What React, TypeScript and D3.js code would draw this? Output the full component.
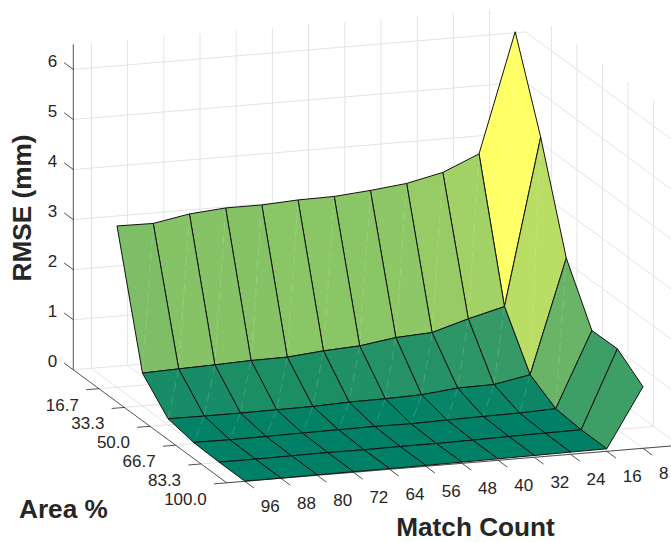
import React from 'react';
import * as d3 from 'd3';

const matchCounts = [96, 88, 80, 72, 64, 56, 48, 40, 32, 24, 16, 8];
const areaPercents = [16.7, 33.3, 50.0, 66.7, 83.3, 100.0];
const areaLabels = ['16.7', '33.3', '50.0', '66.7', '83.3', '100.0'];
const rmseTicks = [0, 1, 2, 3, 4, 5, 6];

const rmseArea167 = [3.22, 3.21, 3.34, 3.40, 3.40, 3.44, 3.45, 3.51, 3.59, 3.75, 4.06, 6.44];
const rmseArea333 = [0.655, 0.68, 0.70, 0.727, 0.735, 0.80, 0.84, 0.946, 0.986, 1.2, 1.385, 4.71];
const rmseArea500 = [0.12, 0.114, 0.114, 0.12, 0.126, 0.154, 0.16, 0.18, 0.253, 0.265, 0.40, 2.67];
const rmseArea667 = [0.024, 0.018, 0.024, 0.032, 0.038, 0.044, 0.038, 0.052, 0.064, 0.072, 0.098, 1.6];
const rmseArea833 = [0.006, 0.006, 0.012, 0.018, 0.012, 0.018, 0.018, 0.026, 0.038, 0.046, 0.052, 1.61];
const rmseArea1000 = [0.004, 0.005, 0.01, 0.012, 0.015, 0.018, 0.024, 0.03, 0.036, 0.044, 0.05, 1.23];
const rmse = [rmseArea167, rmseArea333, rmseArea500, rmseArea667, rmseArea833, rmseArea1000];

const W = 671;
const H = 542;
const zTop = 6.5;

// Oblique axis projection: each data axis contributes one screen vector.
const sxX = d3.scaleLinear().domain([100, 0]).range([0, 452.5]);
const syX = d3.scaleLinear().domain([100, 0]).range([0, -37.5]);
const sxY = d3.scaleLinear().domain([0, 100]).range([0, 153.4]);
const syY = d3.scaleLinear().domain([0, 100]).range([0, 113]);
const syZ = d3.scaleLinear().domain([0, 6]).range([0, -300.4]);
const O = [73.3, 369.8];

const project = (x: number, y: number, z: number): [number, number] => [
  O[0] + sxX(x) + sxY(y),
  O[1] + syX(x) + syY(y) + syZ(z),
];

const zMin = d3.min(rmse.flat()) as number;
const zMax = d3.max(rmse.flat()) as number;
const summer = d3.scaleLinear<string>().domain([0, 1]).range(['rgb(0,128,102)', 'rgb(255,255,102)']);
const faceColor = (z: number) => {
  const i = Math.min(63, Math.floor(((z - zMin) / (zMax - zMin)) * 64));
  return summer(i / 63);
};

const pathOf = (pts: [number, number][], close = false) => (d3.line()(pts) as string) + (close ? 'Z' : '');

const GRID = '#e4e4e4';
const INK = '#262626';
const FONT = '"Liberation Sans", Arial, sans-serif';

export default function App() {
  const gridPaths: string[] = [];
  for (const x of matchCounts) {
    gridPaths.push(pathOf([project(x, 100, 0), project(x, 0, 0), project(x, 0, zTop)]));
  }
  for (const y of areaPercents) {
    gridPaths.push(pathOf([project(100, y, 0), project(0, y, 0), project(0, y, zTop)]));
  }
  for (const z of rmseTicks) {
    gridPaths.push(pathOf([project(100, 0, z), project(0, 0, z), project(0, 100, z)]));
  }

  const faces: React.ReactNode[] = [];
  for (let r = 0; r < areaPercents.length - 1; r++) {
    for (let c = matchCounts.length - 2; c >= 0; c--) {
      const a = project(matchCounts[c], areaPercents[r], rmse[r][c]);
      const b = project(matchCounts[c + 1], areaPercents[r], rmse[r][c + 1]);
      const d = project(matchCounts[c + 1], areaPercents[r + 1], rmse[r + 1][c + 1]);
      const e = project(matchCounts[c], areaPercents[r + 1], rmse[r + 1][c]);
      const fill = faceColor(rmse[r][c + 1]);
      faces.push(
        <g key={`${r}-${c}`}>
          <path d={pathOf([a, b, d, e], true)} fill={fill} />
          {r < 3 && (
            <path d={pathOf([b, e])} fill="none" stroke="#fff" strokeOpacity={0.22} strokeWidth={0.7} strokeDasharray="9 5" />
          )}
          <path d={pathOf([a, b, d, e], true)} fill="none" stroke="#111" strokeWidth={1} strokeLinejoin="round" />
        </g>
      );
    }
  }

  return (
    <svg width={W} height={H} viewBox={`0 0 ${W} ${H}`} style={{ position: 'absolute', left: 0, top: 0, background: '#fff' }}>
      <g fill="none" stroke={GRID} strokeWidth={1}>
        {gridPaths.map((d, i) => <path key={i} d={d} />)}
      </g>
      <g fill="none" stroke={INK} strokeWidth={0.8}>
        <path d={pathOf([project(100, 0, 0), project(100, 0, zTop)])} />
        <path d={pathOf([project(100, 0, 0), project(100, 100, 0), project(0, 100, 0)])} />
      </g>
      {faces}
      <g fill="none" stroke={INK} strokeWidth={0.8}>
        {rmseTicks.map((z) => <path key={z} d={pathOf([project(100, 0, z), project(100, -6, z)])} />)}
        {areaPercents.map((y) => <path key={y} d={pathOf([project(100, y, 0), project(102.8, y, 0)])} />)}
        {matchCounts.map((x) => <path key={x} d={pathOf([project(x, 100, 0), project(x, 106, 0)])} />)}
      </g>
      <g fontFamily={FONT} fontSize={17} fill={INK}>
        {rmseTicks.map((z) => {
          const [px, py] = project(100, 0, z);
          return <text key={z} x={px - 16} y={py - 2.5} textAnchor="end">{z}</text>;
        })}
        {areaPercents.map((y, i) => {
          const [px, py] = project(100, y, 0);
          return <text key={y} x={px - 20} y={py + 22} textAnchor="end">{areaLabels[i]}</text>;
        })}
        {matchCounts.map((x) => {
          const [px, py] = project(x, 100, 0);
          return <text key={x} x={px + 16} y={py + 30.5}>{x}</text>;
        })}
      </g>
      <g fontFamily={FONT} fontSize={26.2} fontWeight="bold" fill={INK}>
        <text x={475.5} y={536} textAnchor="middle">Match Count</text>
        <text x={19} y={518}>Area %</text>
        <text transform="translate(31,208) rotate(-90)" textAnchor="middle">RMSE (mm)</text>
      </g>
    </svg>
  );
}
